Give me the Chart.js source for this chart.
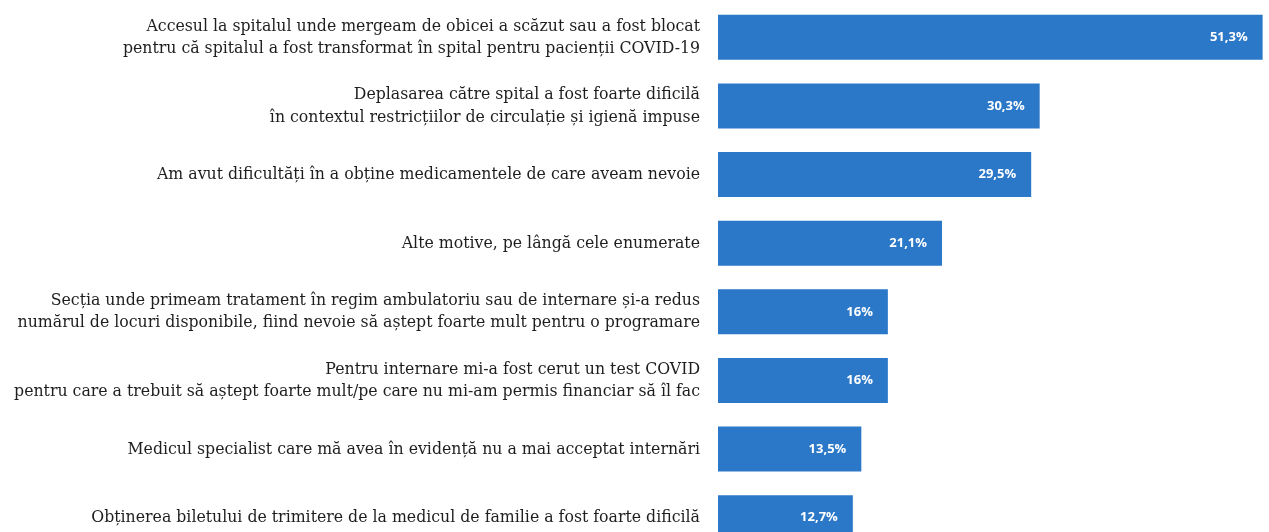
<!DOCTYPE html>
<html>
<head>
<meta charset="utf-8">
<script src="https://cdn.jsdelivr.net/npm/chart.js@4/dist/chart.umd.min.js"></script>
<style>
  html, body { margin: 0; padding: 0; background: #fff; overflow: hidden; }
  #wrap { width: 1269px; height: 552px; position: relative; }
</style>
</head>
<body>
<div id="wrap"><canvas id="myChart"></canvas></div>
<script>
const categories = [
  ['Accesul la spitalul unde mergeam de obicei a scăzut sau a fost blocat',
   'pentru că spitalul a fost transformat în spital pentru pacienții COVID-19'],
  ['Deplasarea către spital a fost foarte dificilă',
   'în contextul restricțiilor de circulație și igienă impuse'],
  'Am avut dificultăți în a obține medicamentele de care aveam nevoie',
  'Alte motive, pe lângă cele enumerate',
  ['Secția unde primeam tratament în regim ambulatoriu sau de internare și-a redus',
   'numărul de locuri disponibile, fiind nevoie să aștept foarte mult pentru o programare'],
  ['Pentru internare mi-a fost cerut un test COVID',
   'pentru care a trebuit să aștept foarte mult/pe care nu mi-am permis financiar să îl fac'],
  'Medicul specialist care mă avea în evidență nu a mai acceptat internări',
  'Obținerea biletului de trimitere de la medicul de familie a fost foarte dificilă'
];
const values = [51.3, 30.3, 29.5, 21.1, 16, 16, 13.5, 12.7];

const fmt = v => String(v).replace('.', ',') + '%';

// white value text near the end of each bar
const valueLabels = {
  id: 'valueLabels',
  afterDatasetsDraw(chart) {
    const { ctx } = chart;
    const meta = chart.getDatasetMeta(0);
    ctx.save();
    ctx.font = 'bold 13px "Open Sans", sans-serif';
    ctx.fillStyle = '#ffffff';
    ctx.textAlign = 'right';
    ctx.textBaseline = 'middle';
    meta.data.forEach((bar, i) => {
      ctx.fillText(fmt(values[i]), bar.x - 15, bar.y);
    });
    ctx.restore();
  }
};

let ctx = document.getElementById('myChart').getContext('2d');

new Chart(ctx, {
  type: 'bar',
  data: {
    labels: categories,
    datasets: [{
      data: values,
      backgroundColor: '#2b78c8',
      borderWidth: 0,
      barPercentage: 0.655,
      categoryPercentage: 1
    }]
  },
  options: {
    indexAxis: 'y',
    responsive: true,
    maintainAspectRatio: false,
    animation: false,
    layout: { padding: { top: 3, right: 0, left: 0, bottom: 0 } },
    plugins: {
      legend: { display: false },
      tooltip: { enabled: false }
    },
    scales: {
      x: {
        display: false,
        min: 0,
        max: 51.9
      },
      y: {
        grid: { display: false, drawTicks: false },
        border: { display: false },
        afterFit: scale => {
          scale.width = 718;
          scale.paddingTop = 0;
          scale.paddingBottom = 0;
        },
        ticks: {
          padding: 18,
          color: '#1e1e1e',
          font: { family: '"DejaVu Serif Condensed", "DejaVu Serif", serif', size: 17.5, lineHeight: 1.26 }
        }
      }
    }
  },
  plugins: [valueLabels]
});
</script>
</body>
</html>
